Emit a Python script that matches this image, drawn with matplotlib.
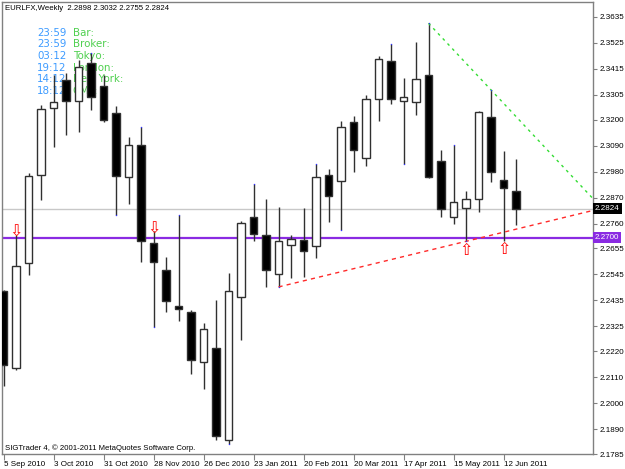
import numpy as np
import matplotlib
matplotlib.use("Agg")
import matplotlib.pyplot as plt
from matplotlib.transforms import blended_transform_factory

# weekly EURLFX candles
opens = [2.2473, 2.2149, 2.2593, 2.2965, 2.3248, 2.3366, 2.3280, 2.3439, 2.3344, 2.3228,
         2.2958, 2.3092, 2.2678, 2.2562, 2.2410, 2.2386, 2.2174, 2.2235, 2.1844, 2.2449,
         2.2788, 2.2712, 2.2545, 2.2669, 2.2689, 2.2666, 2.2964, 2.2941, 2.3191, 2.3036,
         2.3289, 2.3449, 2.3280, 2.3274, 2.3390, 2.3026, 2.2790, 2.2828, 2.2864, 2.3211,
         2.2946, 2.2898]
highs = [2.2480, 2.2713, 2.2975, 2.3263, 2.3390, 2.3398, 2.3453, 2.3484, 2.3390, 2.3256,
         2.3126, 2.3171, 2.2727, 2.2617, 2.2796, 2.2396, 2.2339, 2.2438, 2.2553, 2.2773,
         2.2929, 2.2864, 2.2830, 2.2713, 2.2826, 2.3012, 2.2992, 2.3195, 2.3217, 2.3306,
         2.3470, 2.3520, 2.3376, 2.3528, 2.3608, 2.3072, 2.3091, 2.2896, 2.3237, 2.3326,
         2.3068, 2.3032]
lows = [2.2071, 2.2142, 2.2544, 2.2861, 2.3086, 2.3136, 2.3146, 2.3242, 2.3192, 2.2795,
        2.2843, 2.2596, 2.2322, 2.2386, 2.2346, 2.2124, 2.2060, 2.1846, 2.1829, 2.2266,
        2.2685, 2.2492, 2.2492, 2.2528, 2.2534, 2.2613, 2.2767, 2.2731, 2.2979, 2.3005,
        2.3196, 2.3266, 2.3014, 2.3219, 2.2954, 2.2786, 2.2759, 2.2685, 2.2809, 2.2938,
        2.2687, 2.2755]
closes = [2.2163, 2.2579, 2.2962, 2.3245, 2.3273, 2.3280, 2.3425, 2.3298, 2.3199, 2.2962,
          2.3092, 2.2687, 2.2599, 2.2434, 2.2400, 2.2184, 2.2314, 2.1863, 2.2475, 2.2764,
          2.2717, 2.2562, 2.2686, 2.2695, 2.2646, 2.2957, 2.2875, 2.3171, 2.3072, 2.3287,
          2.3456, 2.3288, 2.3294, 2.3371, 2.2958, 2.2823, 2.2851, 2.2864, 2.3232, 2.2978,
          2.2910, 2.2824]

date_labels = ["5 Sep 2010", "3 Oct 2010", "31 Oct 2010", "28 Nov 2010", "26 Dec 2010",
               "23 Jan 2011", "20 Feb 2011", "20 Mar 2011", "17 Apr 2011", "15 May 2011",
               "12 Jun 2011"]
price_ticks = [2.3635, 2.3525, 2.3415, 2.3305, 2.3200, 2.3090, 2.2980, 2.2870, 2.2760,
               2.2655, 2.2545, 2.2435, 2.2325, 2.2220, 2.2110, 2.2000, 2.1890, 2.1785]

bid_level = 2.2824
h_level = 2.2700
fractal_up = [1, 12]      # arrows above highs
fractal_down = [37, 40]   # arrows below lows
dots_high = [7, 11, 14, 20, 25, 31, 34, 36, 39]
dots_low = [9, 12, 18, 22, 27, 32, 37]
red_trend = (22, 37)      # through lows
green_trend = (34, 39)    # through highs

clock_times = ["23:59", "23:59", "03:12", "19:12", "14:12", "18:12"]
clock_names = ["Bar:", "Broker:", "Tokyo:", "London:", "New York:", "GMT:"]

plt.rcParams['font.family'] = ['Liberation Sans', 'DejaVu Sans']

W, H = 625, 469
fig = plt.figure(figsize=(W / 100, H / 100), dpi=100)
ax = fig.add_axes([2 / W, 15 / H, 591 / W, 452 / H])
x0, x1 = -0.12, 47.16
ax.set_xlim(x0, x1)
ax.set_ylim(2.17864, 2.3698)

o = np.array(opens)
c = np.array(closes)
hi = np.array(highs)
lo = np.array(lows)
x = np.arange(len(o))

# candles
ax.vlines(x, lo, hi, color='#303030', lw=1, zorder=3)
bull = c >= o
body_bottom = np.minimum(o, c)
body_h = np.maximum(np.abs(c - o), 0.0003)
ax.bar(x, body_h, bottom=body_bottom, width=0.6,
       color=np.where(bull, 'white', 'black'), edgecolor='#303030', lw=1, zorder=4)

# horizontal levels
ax.axhline(bid_level, color='#c8c8c8', lw=1, zorder=2)
ax.axhline(h_level, color='#8a2be2', lw=1.6, zorder=2)

# trend lines
def trend(i0, i1, ys, color, dash):
    slope = (ys[i1] - ys[i0]) / (i1 - i0)
    xs = np.array([i0, x1])
    ax.plot(xs, ys[i0] + slope * (xs - i0), color=color, lw=1,
            linestyle=(0, dash), zorder=5, clip_on=True)

trend(*red_trend, lo, '#ff2a2a', (3, 3))
trend(*green_trend, hi, '#33dd33', (2, 3))

# zigzag-ish dots
ax.plot(x[dots_high], hi[dots_high], 's', ms=0.9, mew=0, color='#3030ff', zorder=6)
ax.plot(x[dots_low], lo[dots_low], 's', ms=0.9, mew=0, color='#3030ff', zorder=6)

# fractal arrows
for i in fractal_up:
    ax.annotate('\u21e9', xy=(i, hi[i]), xytext=(0, 1.8), textcoords='offset points',
                ha='center', va='center', color='red', fontsize=11.5,
                family='DejaVu Sans', zorder=7)
for i in fractal_down:
    ax.annotate('\u21e7', xy=(i, lo[i]), xytext=(0, -6.4), textcoords='offset points',
                ha='center', va='center', color='red', fontsize=11.5,
                family='DejaVu Sans', zorder=7)

# axes look
for s in ax.spines.values():
    s.set_color('#808080')
    s.set_linewidth(1)
ax.yaxis.tick_right()
ax.set_yticks(price_ticks)
ax.set_yticklabels([f"{v:.4f}" for v in price_ticks])
ax.tick_params(axis='y', length=3, width=0.8, color='#808080', pad=1.5,
               labelsize=5.8, labelcolor='black')
ax.set_xticks(x[::4][:len(date_labels)])
ax.set_xticklabels(date_labels, ha='left')
ax.tick_params(axis='x', length=4, width=0.8, color='#808080', pad=1,
               labelsize=5.8, labelcolor='black')

# price tags on the right axis
tr = blended_transform_factory(ax.transAxes, ax.transData)
for lvl, bg in [(bid_level, 'black'), (h_level, '#8a2be2')]:
    ax.text(1.0 + 2 / 591, lvl, f"{lvl:.4f}", transform=tr, ha='left', va='center',
            fontsize=5.8, color='white', zorder=10, clip_on=False,
            bbox=dict(boxstyle='square,pad=0.25', fc=bg, ec='none'))

# header and footer text
ax.text(5 / W, 1 - 8 / H, "EURLFX,Weekly  %.4f %.4f %.4f %.4f" % (opens[-1], highs[-1], lows[-1], closes[-1]),
        transform=fig.transFigure, ha='left', va='center', fontsize=5.6, color='black', zorder=8)
ax.text(5 / W, 1 - 448 / H, "SIGTrader 4, \u00a9 2001-2011 MetaQuotes Software Corp.",
        transform=fig.transFigure, ha='left', va='center', fontsize=5.6, color='black', zorder=8)

# session clocks (drawn behind the candles)
for k, (t, n) in enumerate(zip(clock_times, clock_names)):
    yy = 1 - (32.5 + 11.7 * k) / H
    ax.text(37 / W, yy, t, transform=fig.transFigure, ha='left', va='center',
            fontsize=7.4, color='#3d9bff', family='DejaVu Sans', zorder=1)
    ax.text(72.7 / W, yy, n, transform=fig.transFigure, ha='left', va='center',
            fontsize=7.4, color='#4fd04f', family='DejaVu Sans', zorder=1)

fig.savefig("out.png", dpi=100)
